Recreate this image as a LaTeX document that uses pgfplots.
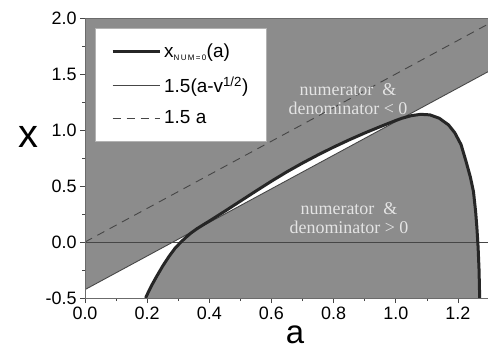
\documentclass[border=0pt]{standalone}
\usepackage{fontspec}
\setmainfont{Liberation Sans}
\newfontfamily\serifrm{Liberation Serif}
\usepackage{pgfplots}
\pgfplotsset{compat=1.18}
\usepackage{pgfplotstable}
\usetikzlibrary{calc}
\definecolor{shade}{RGB}{140,140,140}
\definecolor{txtlt}{RGB}{228,228,228}
\definecolor{lncol}{RGB}{70,70,70}

\pgfplotstableread{
a x
0.195 -0.50
0.205 -0.44
0.215 -0.385
0.23 -0.31
0.25 -0.215
0.27 -0.13
0.29 -0.055
0.31 0.003
0.325 0.042
0.34 0.078
0.36 0.118
0.38 0.153
0.40 0.187
0.42 0.222
0.45 0.275
0.50 0.365
0.55 0.455
0.60 0.543
0.65 0.627
0.70 0.705
0.75 0.778
0.80 0.847
0.85 0.912
0.90 0.973
0.95 1.03
1.00 1.085
1.02 1.105
1.05 1.128
1.08 1.14
1.11 1.135
1.14 1.105
1.17 1.045
1.19 0.975
1.21 0.87
1.225 0.73
1.24 0.58
1.25 0.45
1.257 0.27
1.261 0.13
1.265 -0.05
1.268 -0.25
1.27 -0.50
}\curvedata

\pgfplotstableread{
a x
0.345 0.0925
0.36 0.118
0.38 0.153
0.40 0.187
0.42 0.222
0.45 0.275
0.50 0.365
0.55 0.455
0.60 0.543
0.65 0.627
0.70 0.705
0.75 0.778
0.80 0.847
0.85 0.912
0.90 0.973
0.95 1.03
1.00 1.085
1.02 1.105
}\sliverdata

\begin{document}
\begin{tikzpicture}
\begin{axis}[name=ax, scale only axis, width=404bp, height=280bp,
  xmin=0, xmax=1.3, ymin=-0.5, ymax=2.0,
  xtick={0,0.2,0.4,0.6,0.8,1.0,1.2},
  ytick={-0.5,0,0.5,1.0,1.5,2.0},
  minor x tick num=1, minor y tick num=1,
  tick align=outside, xtick pos=bottom, ytick pos=left,
  major tick length=5bp, minor tick length=3bp,
  tick style={lncol, line width=0.6bp},
  axis line style={lncol!80, line width=0.6bp},
  axis background/.style={fill=shade},
  /pgf/number format/assume math mode=true,
  xticklabel={\pgfmathprintnumber[fixed,fixed zerofill,precision=1]{\tick}},
  yticklabel={\pgfmathprintnumber[fixed,fixed zerofill,precision=1]{\tick}},
  ticklabel style={font=\fontsize{18}{18}\selectfont},
  axis on top,
  legend style={at={(0.0248,0.964)}, anchor=north west, draw=gray!60, fill=white,
    font=\fontsize{19}{21}\selectfont, row sep=13bp, inner xsep=16bp, inner ysep=14bp,
    cells={anchor=west}, column sep=1bp},
  legend image code/.code={\draw[#1] (0bp,0bp) -- (47bp,0bp);},
]
\addplot[draw=none, fill=white, forget plot] coordinates {(0,-0.5) (0,-0.425) (1.3,1.525) (1.3,-0.5)} -- cycle;
\addplot[draw=none, fill=shade, forget plot] table {\curvedata} -- cycle;
\addplot[draw=none, fill=white, forget plot] table {\sliverdata} -- cycle;
\addplot[lncol, line width=0.7bp, forget plot] coordinates {(0,0) (1.3,0)};
\addplot[lncol, line width=0.9bp, dash pattern=on 8bp off 6bp, forget plot] coordinates {(0,0) (1.3,1.95)};
\addplot[lncol, line width=0.9bp, forget plot] coordinates {(0,-0.425) (1.3,1.525)};
\addplot[black!85, line width=3bp, line join=round, forget plot] table {\curvedata};

\addlegendimage{black!85, line width=3bp}
\addlegendentry{x\textsubscript{\fontsize{8}{8}\selectfont N\,U\,M\,=\,0}(a)}
\addlegendimage{lncol, line width=0.9bp}
\addlegendentry{1.5(a-v\textsuperscript{1/2})}
\addlegendimage{lncol, line width=0.9bp, dash pattern=on 8bp off 6bp}
\addlegendentry{1.5 a}
\end{axis}
\node[font=\serifrm\fontsize{18}{19}\selectfont, text=txtlt, align=center]
  at ($(ax.south west)+(263bp,199bp)$) {numerator\ \ \&\\denominator < 0};
\node[font=\serifrm\fontsize{18}{19}\selectfont, text=txtlt, align=center]
  at ($(ax.south west)+(264bp,80bp)$) {numerator\ \ \&\\denominator > 0};
\node[font=\fontsize{40}{40}\selectfont, inner sep=0pt] at ($(ax.south west)+(-57bp,161bp)$) {x};
\node[font=\fontsize{33}{33}\selectfont, inner sep=0pt] at ($(ax.south west)+(210bp,-37bp)$) {a};
\pgfresetboundingbox
\path ($(ax.south west)+(-85bp,-53bp)$) rectangle ($(ax.north east)+(-1bp,18bp)$);
\end{tikzpicture}
\end{document}
